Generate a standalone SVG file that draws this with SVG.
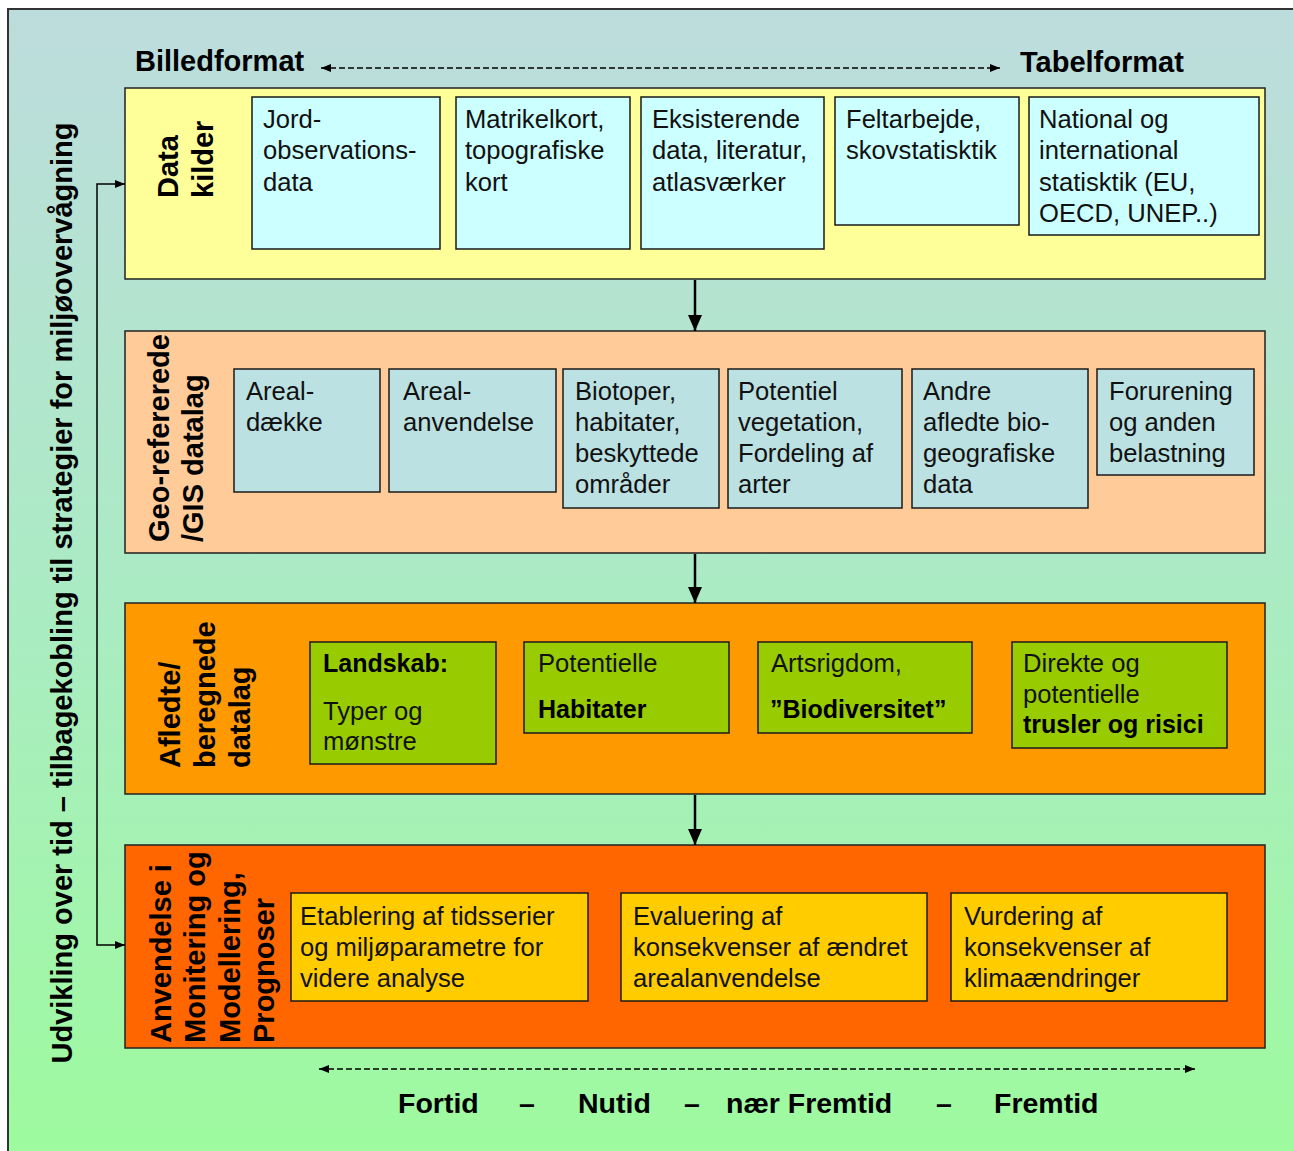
<svg xmlns="http://www.w3.org/2000/svg" width="1293" height="1151" viewBox="0 0 1293 1151">
<defs>
<linearGradient id="bg" x1="0" y1="0" x2="0" y2="1">
<stop offset="0" stop-color="#BDDCDD"/>
<stop offset="0.5" stop-color="#ABEBC4"/>
<stop offset="1" stop-color="#9DFB9D"/>
</linearGradient>
<marker id="ah" viewBox="0 0 16 14" refX="16" refY="7" markerWidth="16" markerHeight="14" markerUnits="userSpaceOnUse" orient="auto"><path d="M0,0 L16,7 L0,14 z" fill="#000"/></marker>
<marker id="as" viewBox="0 0 10 8" refX="10" refY="4" markerWidth="10" markerHeight="8" markerUnits="userSpaceOnUse" orient="auto-start-reverse"><path d="M0,0 L10,4 L0,8 z" fill="#000"/></marker>
</defs>
<style>
.row{stroke:#222;stroke-width:1.5}
.box{stroke:#1a1a1a;stroke-width:1.5}
.t{font-family:"Liberation Sans",Arial,sans-serif;font-size:25.6px;fill:#111}
.b{font-family:"Liberation Sans",Arial,sans-serif;font-weight:bold;fill:#000}
.lbl{font-family:"Liberation Sans",Arial,sans-serif;font-weight:bold;font-size:29px;fill:#000}
.hd{font-family:"Liberation Sans",Arial,sans-serif;font-weight:bold;font-size:29px;fill:#000}
.ft{font-family:"Liberation Sans",Arial,sans-serif;font-weight:bold;font-size:28.5px;fill:#000}
.dash{stroke:#000;stroke-width:1.5;stroke-dasharray:6 3;fill:none}
.solid{stroke:#000;stroke-width:2.5;fill:none}
.fb{stroke:#000;stroke-width:1.5;fill:none}
</style>
<rect x="8" y="9" width="1300" height="1160" fill="url(#bg)" stroke="#333" stroke-width="2"/>

<text class="hd" x="135" y="71">Billedformat</text>
<text class="hd" x="1020" y="72">Tabelformat</text>
<text class="lbl" text-anchor="middle" transform="translate(72,593) rotate(-90)">Udvikling over tid – tilbagekobling til strategier for miljøovervågning</text>

<g id="row1">
<rect class="row" x="125" y="88" width="1140" height="191" fill="#FFFF99"/>
<text class="lbl" transform="translate(178,198) rotate(-90)"><tspan x="0" y="0">Data</tspan><tspan x="0" y="35">kilder</tspan></text>
</g>
<g id="n-jord"><rect class="box" x="252" y="97" width="188" height="152" fill="#CCFFFF"/>
<text class="t" x="263"><tspan x="263" y="128">Jord-</tspan><tspan x="263" y="159.3">observations-</tspan><tspan x="263" y="190.6">data</tspan></text></g>
<g id="n-matrikel"><rect class="box" x="456" y="97" width="174" height="152" fill="#CCFFFF"/>
<text class="t"><tspan x="465" y="128">Matrikelkort,</tspan><tspan x="465" y="159.3">topografiske</tspan><tspan x="465" y="190.6">kort</tspan></text></g>
<g id="n-eksist"><rect class="box" x="641" y="97" width="183" height="152" fill="#CCFFFF"/>
<text class="t"><tspan x="652" y="128">Eksisterende</tspan><tspan x="652" y="159.3">data, literatur,</tspan><tspan x="652" y="190.6">atlasværker</tspan></text></g>
<g id="n-felt"><rect class="box" x="835" y="97" width="184" height="128" fill="#CCFFFF"/>
<text class="t"><tspan x="846" y="128">Feltarbejde,</tspan><tspan x="846" y="159.3">skovstatisktik</tspan></text></g>
<g id="n-national"><rect class="box" x="1029" y="97" width="230" height="138" fill="#CCFFFF"/>
<text class="t"><tspan x="1039" y="128">National og</tspan><tspan x="1039" y="159.3">international</tspan><tspan x="1039" y="190.6">statisktik (EU,</tspan><tspan x="1039" y="221.9">OECD, UNEP..)</tspan></text></g>

<g id="row2">
<rect class="row" x="125" y="331" width="1140" height="222" fill="#FFCC99"/>
<text class="lbl" transform="translate(169,542) rotate(-90)"><tspan x="0" y="0">Geo-refererede</tspan><tspan x="0" y="34">/GIS datalag</tspan></text>
</g>
<g id="n-arealdaekke"><rect class="box" x="234" y="369" width="146" height="123" fill="#BCE1E2"/>
<text class="t"><tspan x="246" y="400">Areal-</tspan><tspan x="246" y="431">dække</tspan></text></g>
<g id="n-arealanv"><rect class="box" x="389" y="369" width="167" height="123" fill="#BCE1E2"/>
<text class="t"><tspan x="403" y="400">Areal-</tspan><tspan x="403" y="431">anvendelse</tspan></text></g>
<g id="n-biotoper"><rect class="box" x="563" y="369" width="156" height="139" fill="#BCE1E2"/>
<text class="t"><tspan x="575" y="400">Biotoper,</tspan><tspan x="575" y="431">habitater,</tspan><tspan x="575" y="462">beskyttede</tspan><tspan x="575" y="493">områder</tspan></text></g>
<g id="n-potveg"><rect class="box" x="728" y="369" width="174" height="139" fill="#BCE1E2"/>
<text class="t"><tspan x="738" y="400">Potentiel</tspan><tspan x="738" y="431">vegetation,</tspan><tspan x="738" y="462">Fordeling af</tspan><tspan x="738" y="493">arter</tspan></text></g>
<g id="n-andre"><rect class="box" x="912" y="369" width="176" height="139" fill="#BCE1E2"/>
<text class="t"><tspan x="923" y="400">Andre</tspan><tspan x="923" y="431">afledte bio-</tspan><tspan x="923" y="462">geografiske</tspan><tspan x="923" y="493">data</tspan></text></g>
<g id="n-forurening"><rect class="box" x="1097" y="369" width="157" height="106" fill="#BCE1E2"/>
<text class="t"><tspan x="1109" y="400">Forurening</tspan><tspan x="1109" y="431">og anden</tspan><tspan x="1109" y="462">belastning</tspan></text></g>

<g id="row3">
<rect class="row" x="125" y="603" width="1140" height="191" fill="#FF9900"/>
<text class="lbl" transform="translate(180,768) rotate(-90)"><tspan x="0" y="0">Afledte/</tspan><tspan x="0" y="35">beregnede</tspan><tspan x="0" y="70">datalag</tspan></text>
</g>
<g id="n-landskab"><rect class="box" x="310" y="642" width="186" height="122" fill="#99CC00"/>
<text class="b" x="323" y="672" font-size="25px">Landskab:</text>
<text class="t"><tspan x="323" y="720">Typer og</tspan><tspan x="323" y="750">mønstre</tspan></text></g>
<g id="n-habitater"><rect class="box" x="524" y="642" width="205" height="91" fill="#99CC00"/>
<text class="t" x="538" y="672">Potentielle</text>
<text class="b" x="538" y="718" font-size="25px">Habitater</text></g>
<g id="n-biodiv"><rect class="box" x="758" y="642" width="214" height="91" fill="#99CC00"/>
<text class="t" x="771" y="672">Artsrigdom,</text>
<text class="b" x="770" y="718" font-size="25px">”Biodiversitet”</text></g>
<g id="n-trusler"><rect class="box" x="1012" y="642" width="215" height="106" fill="#99CC00"/>
<text class="t"><tspan x="1023" y="672">Direkte og</tspan><tspan x="1023" y="703">potentielle</tspan></text>
<text class="b" x="1023" y="733" font-size="25px">trusler og risici</text></g>

<g id="row4">
<rect class="row" x="125" y="845" width="1140" height="203" fill="#FF6600"/>
<text class="lbl" transform="translate(171,1043) rotate(-90)"><tspan x="0" y="0">Anvendelse i</tspan><tspan x="0" y="34.3">Monitering og</tspan><tspan x="0" y="68.6">Modellering,</tspan><tspan x="0" y="102.9">Prognoser</tspan></text>
</g>
<g id="n-etablering"><rect class="box" x="291" y="893" width="297" height="108" fill="#FFCC00"/>
<text class="t"><tspan x="300" y="925">Etablering af tidsserier</tspan><tspan x="300" y="956">og miljøparametre for</tspan><tspan x="300" y="987">videre analyse</tspan></text></g>
<g id="n-evaluering"><rect class="box" x="621" y="893" width="306" height="108" fill="#FFCC00"/>
<text class="t"><tspan x="633" y="925">Evaluering af</tspan><tspan x="633" y="956">konsekvenser af ændret</tspan><tspan x="633" y="987">arealanvendelse</tspan></text></g>
<g id="n-vurdering"><rect class="box" x="951" y="893" width="276" height="108" fill="#FFCC00"/>
<text class="t"><tspan x="964" y="925">Vurdering af</tspan><tspan x="964" y="956">konsekvenser af</tspan><tspan x="964" y="987">klimaændringer</tspan></text></g>

<g id="connectors">
<line class="dash" x1="321" y1="68" x2="1000" y2="68" marker-start="url(#as)" marker-end="url(#as)"/>
<line class="solid" x1="695" y1="280" x2="695" y2="331" marker-end="url(#ah)"/>
<line class="solid" x1="695" y1="554" x2="695" y2="603" marker-end="url(#ah)"/>
<line class="solid" x1="695" y1="795" x2="695" y2="845" marker-end="url(#ah)"/>
<path class="fb" d="M125,184 H97 V945 H125" marker-start="url(#as)" marker-end="url(#as)"/>
<line class="dash" x1="319" y1="1069" x2="1195" y2="1069" marker-start="url(#as)" marker-end="url(#as)"/>
</g>

<text class="ft" x="398" y="1113">Fortid</text>
<text class="ft" x="519" y="1113">–</text>
<text class="ft" x="578" y="1113">Nutid</text>
<text class="ft" x="684" y="1113">–</text>
<text class="ft" x="726" y="1113">nær Fremtid</text>
<text class="ft" x="936" y="1113">–</text>
<text class="ft" x="994" y="1113">Fremtid</text>
</svg>
